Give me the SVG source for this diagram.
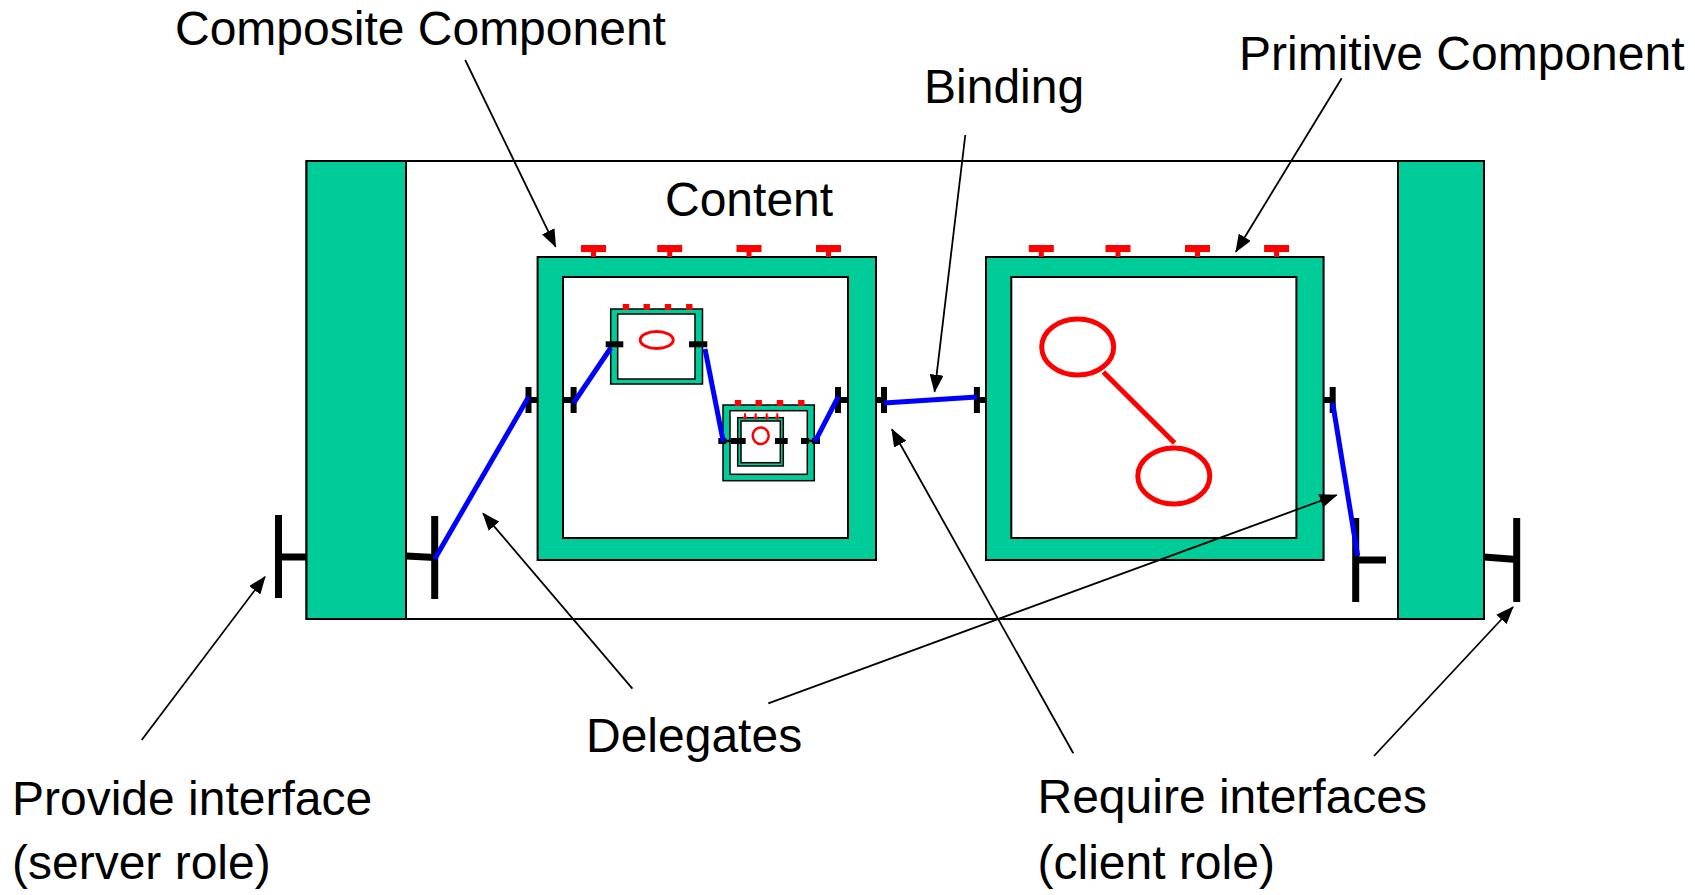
<svg xmlns="http://www.w3.org/2000/svg" width="1695" height="895" viewBox="0 0 1695 895">
<defs>
<style>
.g{fill:#00CC99;stroke:#000;stroke-width:2}
.w{fill:#fff;stroke:#000;stroke-width:2}
.gs{fill:#00CC99;stroke:#000;stroke-width:1.5}
.ws{fill:#fff;stroke:#000;stroke-width:1.5}
.k{fill:#000}
.r{fill:#FF0000}
.ro{fill:none;stroke:#FF0000}
.b{stroke:#0000FF;stroke-width:5;fill:none}
.a{stroke:#000;stroke-width:1.8;fill:none;marker-end:url(#ah)}
.t{font-family:"Liberation Sans",Arial,sans-serif;font-size:48px;fill:#000}
</style>
<marker id="ah" markerUnits="userSpaceOnUse" markerWidth="18" markerHeight="14" refX="17" refY="7" orient="auto">
<path d="M0,0 L18,7 L0,14 z" fill="#000"/>
</marker>
<g id="redT"><rect x="-12.5" y="0" width="25" height="7" class="r"/><rect x="-2.5" y="6" width="5" height="6" class="r"/></g>
<g id="blackI"><rect x="-3" y="-13" width="6" height="26" class="k"/></g>
<g id="sq"><rect x="-3.2" y="0" width="6.4" height="6" class="r"/></g>
<g id="tinyArrow"><rect x="-1" y="0" width="2" height="4" class="r"/><path d="M-3,3.5 L3,3.5 L0,7 z" class="r"/></g>
</defs>

<!-- outer composite component -->
<g id="outer">
<rect x="306.5" y="161" width="1177.5" height="458" class="w"/>
<rect x="306.5" y="161" width="99.5" height="458" class="g"/>
<rect x="1398" y="161" width="86" height="458" class="g"/>
<text x="665" y="216" class="t">Content</text>
</g>

<!-- provide interface T's -->
<g id="provide-outside">
<rect x="275" y="515" width="7" height="83" class="k"/>
<rect x="278" y="553.5" width="29" height="7" class="k"/>
</g>
<g id="provide-inside">
<path d="M406,556 L434.7,557.5" stroke="#000" stroke-width="7"/>
<rect x="431.2" y="516" width="7" height="83" class="k"/>
</g>
<g id="require-inside">
<rect x="1352.2" y="518" width="7" height="84" class="k"/>
<rect x="1355" y="556.5" width="31" height="7" class="k"/>
</g>
<g id="require-outside">
<path d="M1484,557 L1516.7,559.5" stroke="#000" stroke-width="7"/>
<rect x="1513.2" y="518" width="7" height="84" class="k"/>
</g>

<!-- composite component -->
<g id="composite">
<rect x="537.6" y="257" width="338.4" height="303" class="g"/>
<rect x="563" y="277" width="285" height="261" class="w"/>
<use href="#redT" x="593.5" y="245"/>
<use href="#redT" x="669.7" y="245"/>
<use href="#redT" x="749" y="245"/>
<use href="#redT" x="828.5" y="245"/>
<use href="#blackI" x="528.5" y="400"/>
<rect x="528.5" y="397" width="9.1" height="6" class="k"/>
<use href="#blackI" x="573.6" y="400"/>
<rect x="563" y="397" width="10.6" height="6" class="k"/>
<use href="#blackI" x="838" y="400"/>
<rect x="838" y="397" width="10" height="6" class="k"/>
<use href="#blackI" x="884" y="400"/>
<rect x="876" y="397" width="8" height="6" class="k"/>
</g>

<!-- small primitive component inside composite -->
<g id="sub1">
<rect x="610.7" y="309" width="91.8" height="75" class="gs"/>
<rect x="617.7" y="314" width="77.3" height="65" class="ws"/>
<use href="#sq" x="626" y="304"/>
<use href="#sq" x="646.7" y="304"/>
<use href="#sq" x="668" y="304"/>
<use href="#sq" x="689.3" y="304"/>
<ellipse cx="656.7" cy="340" rx="16.5" ry="8.5" class="ro" stroke-width="3"/>
<rect x="605.7" y="341.3" width="17.6" height="6" class="k"/>
<rect x="689" y="341.3" width="18.3" height="6" class="k"/>
</g>

<!-- small composite inside composite -->
<g id="sub2">
<rect x="723" y="405" width="91.3" height="75.7" class="gs"/>
<rect x="730" y="410.7" width="77.3" height="63.6" class="ws"/>
<use href="#sq" x="738" y="400"/>
<use href="#sq" x="758.7" y="400"/>
<use href="#sq" x="780" y="400"/>
<use href="#sq" x="801.3" y="400"/>
<rect x="737.7" y="417.7" width="45.6" height="48.3" class="gs"/>
<rect x="741" y="421" width="39.3" height="41.7" class="ws"/>
<use href="#tinyArrow" x="745" y="413.3"/>
<use href="#tinyArrow" x="755.7" y="413.3"/>
<use href="#tinyArrow" x="766.7" y="413.3"/>
<use href="#tinyArrow" x="777.3" y="413.3"/>
<ellipse cx="760.7" cy="435.7" rx="8" ry="8.3" class="ro" stroke-width="2.5"/>
<rect x="718.3" y="438" width="8" height="6" class="k"/>
<rect x="723" y="439.7" width="15" height="2.5" class="k"/>
<rect x="731" y="438" width="14.7" height="6" class="k"/>
<rect x="775" y="438" width="12.7" height="6" class="k"/>
<rect x="801" y="438" width="8" height="6" class="k"/>
<rect x="812" y="438" width="8" height="6" class="k"/>
<rect x="806" y="439.7" width="8" height="2.5" class="k"/>
</g>

<!-- primitive component -->
<g id="primitive">
<rect x="986" y="257" width="337.6" height="303" class="g"/>
<rect x="1011.3" y="277" width="285.1" height="261" class="w"/>
<use href="#redT" x="1041.3" y="245"/>
<use href="#redT" x="1118" y="245"/>
<use href="#redT" x="1197.5" y="245"/>
<use href="#redT" x="1276.6" y="245"/>
<use href="#blackI" x="976.9" y="400"/>
<rect x="976.9" y="397" width="9.1" height="6" class="k"/>
<use href="#blackI" x="1332.7" y="400"/>
<rect x="1323.6" y="397" width="9.1" height="6" class="k"/>
<line x1="1103.4" y1="372" x2="1174.6" y2="443" stroke="#FF0000" stroke-width="5"/>
<ellipse cx="1077.7" cy="347" rx="36" ry="28" fill="#fff" stroke="#FF0000" stroke-width="5"/>
<ellipse cx="1173.8" cy="476" rx="36" ry="28" fill="#fff" stroke="#FF0000" stroke-width="5"/>
</g>

<!-- connectors -->
<g id="connectors">
<line x1="434.7" y1="559" x2="528.5" y2="397" class="b"/>
<line x1="573.6" y1="403" x2="610.7" y2="348" class="b"/>
<line x1="705" y1="349" x2="723.3" y2="441.7" class="b"/>
<line x1="815" y1="441.7" x2="838.3" y2="396.7" class="b"/>
<line x1="884" y1="403" x2="976.9" y2="397" class="b"/>
<line x1="1332.7" y1="403" x2="1357.7" y2="556" class="b"/>

<line x1="465.2" y1="60" x2="555.6" y2="246.7" class="a"/>
<line x1="965.3" y1="135" x2="934.6" y2="391.7" class="a"/>
<line x1="1341.7" y1="78.3" x2="1235.9" y2="251.7" class="a"/>
<line x1="632.4" y1="688.6" x2="483" y2="513.3" class="a"/>
<line x1="768.3" y1="703.3" x2="1336.7" y2="495" class="a"/>
<line x1="141.7" y1="740" x2="265" y2="576.7" class="a"/>
<line x1="1073.3" y1="753.3" x2="891.9" y2="429.3" class="a"/>
<line x1="1374" y1="756" x2="1513" y2="607" class="a"/>
</g>

<!-- labels -->
<g id="labels">
<text x="175" y="45" class="t">Composite Component</text>
<text x="924" y="103" class="t">Binding</text>
<text x="1239" y="70" class="t">Primitive Component</text>
<text x="586" y="752" class="t">Delegates</text>
<text x="12" y="815" class="t">Provide interface</text>
<text x="12" y="879" class="t">(server role)</text>
<text x="1037.5" y="813" class="t">Require interfaces</text>
<text x="1037.5" y="879" class="t">(client role)</text>
</g>
</svg>
